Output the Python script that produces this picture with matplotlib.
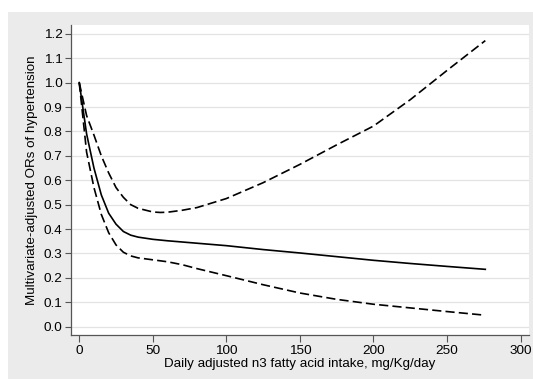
import numpy as np
import matplotlib
matplotlib.use("Agg")
import matplotlib.pyplot as plt
from matplotlib.patches import Rectangle

# values
intake = [0, 5, 10, 15, 20, 25, 30, 35, 40, 50, 55, 60, 70, 80, 100, 125, 150, 175, 200, 225, 250, 276]
or_est = [1.0, 0.79, 0.65, 0.54, 0.465, 0.42, 0.39, 0.375, 0.367, 0.358, 0.355, 0.352, 0.347, 0.342,
          0.332, 0.316, 0.302, 0.287, 0.272, 0.259, 0.247, 0.235]
or_upper = [1.0, 0.865, 0.785, 0.70, 0.63, 0.57, 0.53, 0.50, 0.485, 0.470, 0.468, 0.469, 0.477, 0.488,
            0.525, 0.590, 0.665, 0.745, 0.822, 0.930, 1.050, 1.172]
or_lower = [1.0, 0.715, 0.57, 0.46, 0.385, 0.335, 0.305, 0.29, 0.282, 0.274, 0.270, 0.266, 0.254, 0.238,
            0.209, 0.172, 0.138, 0.112, 0.092, 0.077, 0.062, 0.047]
yticks = np.round(np.arange(0, 1.21, 0.1), 1)
xticks = [0, 50, 100, 150, 200, 250, 300]

plt.rcParams['font.family'] = ['Liberation Sans', 'DejaVu Sans']

W, H = 533, 379
fig = plt.figure(figsize=(W / 100, H / 100), dpi=100, facecolor='white')
fig.patches.append(Rectangle((8 / W, 0), 1 - 8 / W, 1 - 12 / H, transform=fig.transFigure,
                             facecolor='#ebebeb', edgecolor='none', zorder=-5))

ax = fig.add_axes([71 / W, 1 - 335 / H, (529 - 71) / W, (335 - 25) / H])
ax.set_facecolor('white')

ax.plot(intake, or_upper, color='black', lw=1.2, ls=(0, (5.5, 2.5)))
ax.plot(intake, or_est, color='black', lw=1.2)
ax.plot(intake, or_lower, color='black', lw=1.2, ls=(0, (5.5, 2.5)))

ax.set_xlim(-5.6, 305.7)
ax.set_ylim(-0.034, 1.236)
ax.set_yticks(yticks)
ax.set_yticklabels(['%.1f' % v for v in yticks])
ax.set_xticks(xticks)
ax.grid(axis='y', color='#e3e3e3', lw=0.9)
ax.set_axisbelow(True)

for s in ['top', 'right']:
    ax.spines[s].set_visible(False)
for s in ['left', 'bottom']:
    ax.spines[s].set_color('#555555')
    ax.spines[s].set_linewidth(0.9)
ax.tick_params(colors='#555555', labelcolor='black', labelsize=9.7, length=4, width=0.8)
ax.tick_params(axis='x', length=5, pad=2)
ax.tick_params(axis='y', pad=2)

ax.set_xlabel('Daily adjusted n3 fatty acid intake, mg/Kg/day', fontsize=9.6, labelpad=1)
ax.set_ylabel('Multivariate-adjusted ORs of hypertension', fontsize=9.6, labelpad=4)

fig.savefig('out.png', dpi=100, facecolor=fig.get_facecolor())
